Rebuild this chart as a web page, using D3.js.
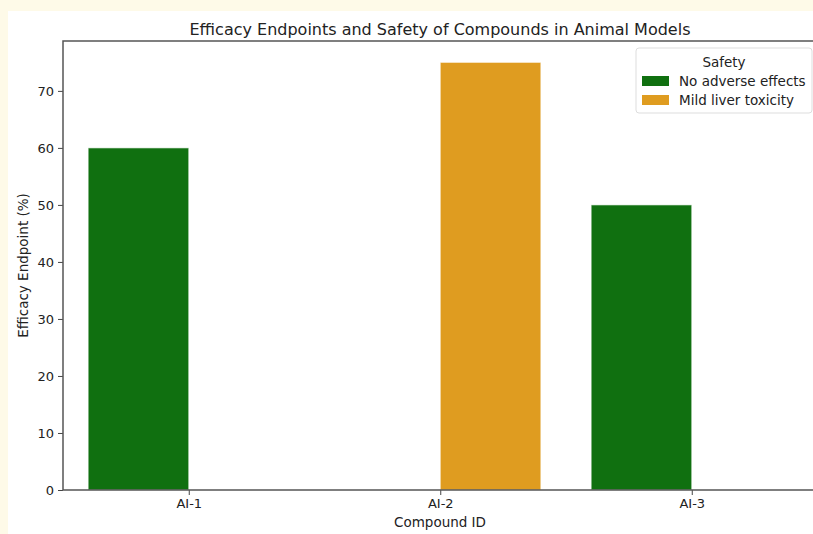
<!DOCTYPE html>
<html>
<head>
<meta charset="utf-8">
<script src="https://cdn.jsdelivr.net/npm/d3@7"></script>
<style>
  body { margin: 0; background: #fefae8; }
  svg { display: block; }
</style>
</head>
<body>
<div id="container"></div>
<script>
let w = 813;
let h = 534;

// data
let compounds = ["AI-1", "AI-2", "AI-3"];
let efficacy = [60, 75, 50];
let safety = ["No adverse effects", "Mild liver toxicity", "No adverse effects"];
let safetyLevels = ["No adverse effects", "Mild liver toxicity"];
let safetyColors = ["#107010", "#df9c20"];
let yTicks = [0, 10, 20, 30, 40, 50, 60, 70];

let viz = d3.select("#container")
  .append("svg")
    .attr("width", w)
    .attr("height", h)
    .style("font-family", "'DejaVu Sans', sans-serif")
;

// white figure area
viz.append("rect")
    .attr("x", 8)
    .attr("y", 11)
    .attr("width", w - 8)
    .attr("height", h - 11)
    .attr("fill", "white")
;

let plotLeft = 63, plotTop = 41, plotBottom = 490;

let xScale = d3.scaleLinear().domain([-0.5, 2.5]).range([plotLeft, plotLeft + 3 * 251.5]);
let yScale = d3.scaleLinear().domain([0, 78.75]).range([plotBottom, plotTop]);
let colorScale = d3.scaleOrdinal().domain(safetyLevels).range(safetyColors);

let rows = compounds.map(function(c, i){
  return { id: c, value: efficacy[i], safety: safety[i], idx: i };
});

function barX(d){
  let k = safetyLevels.indexOf(d.safety);
  return xScale(d.idx - 0.4 + k * 0.4);
}

viz.selectAll(".bar").data(rows).enter()
  .append("rect")
    .classed("bar", true)
    .attr("x", barX)
    .attr("y", function(d){ return yScale(d.value); })
    .attr("width", xScale(0.4) - xScale(0))
    .attr("height", function(d){ return yScale(0) - yScale(d.value); })
    .attr("fill", function(d){ return colorScale(d.safety); })
    .attr("stroke", "rgba(255,255,255,0.6)")
    .attr("stroke-width", 1)
;

// axes
let yAxis = d3.axisLeft(yScale).tickValues(yTicks).tickSize(5).tickPadding(4);
let gy = viz.append("g").attr("transform", "translate(" + plotLeft + ",0)").call(yAxis);

let xAxis = d3.axisBottom(xScale).tickValues([0, 1, 2])
  .tickFormat(function(d){ return compounds[d]; })
  .tickSize(5).tickPadding(4);
let gx = viz.append("g").attr("transform", "translate(0," + plotBottom + ")").call(xAxis);

[gx, gy].forEach(function(g){
  g.select(".domain").remove();
  g.selectAll("line").attr("stroke", "#444").attr("stroke-width", 1);
  g.selectAll("text").attr("fill", "#222").style("font-size", "13px").style("font-family", "'DejaVu Sans', sans-serif");
});

// spines
viz.append("rect")
    .attr("x", plotLeft)
    .attr("y", plotTop)
    .attr("width", xScale(2.5) - plotLeft)
    .attr("height", plotBottom - plotTop)
    .attr("fill", "none")
    .attr("stroke", "#555")
    .attr("stroke-width", 1.5)
;

// titles
viz.append("text")
    .attr("x", 440)
    .attr("y", 35)
    .attr("text-anchor", "middle")
    .style("font-size", "16px")
    .attr("fill", "#222")
    .text("Efficacy Endpoints and Safety of Compounds in Animal Models");

viz.append("text")
    .attr("x", 440)
    .attr("y", 527)
    .attr("text-anchor", "middle")
    .style("font-size", "13.5px")
    .attr("fill", "#222")
    .text("Compound ID");

viz.append("text")
    .attr("transform", "translate(28," + ((plotTop + plotBottom) / 2) + ") rotate(-90)")
    .attr("text-anchor", "middle")
    .style("font-size", "13.5px")
    .attr("fill", "#222")
    .text("Efficacy Endpoint (%)");

// legend
let legend = viz.append("g").attr("transform", "translate(636,48)");
legend.append("rect")
    .attr("width", 176)
    .attr("height", 65)
    .attr("rx", 3)
    .attr("fill", "white")
    .attr("stroke", "#ddd");
legend.append("text")
    .attr("x", 88)
    .attr("y", 18.5)
    .attr("text-anchor", "middle")
    .style("font-size", "13.5px")
    .attr("fill", "#222")
    .text("Safety");

let items = legend.selectAll(".item").data(safetyLevels).enter()
  .append("g")
    .classed("item", true)
    .attr("transform", function(d, i){ return "translate(6," + (28 + i * 19) + ")"; });
items.append("rect")
    .attr("width", 27)
    .attr("height", 10)
    .attr("fill", function(d){ return colorScale(d); });
items.append("text")
    .attr("x", 37)
    .attr("y", 10)
    .style("font-size", "13.5px")
    .attr("fill", "#222")
    .text(function(d){ return d; });
</script>
</body>
</html>
